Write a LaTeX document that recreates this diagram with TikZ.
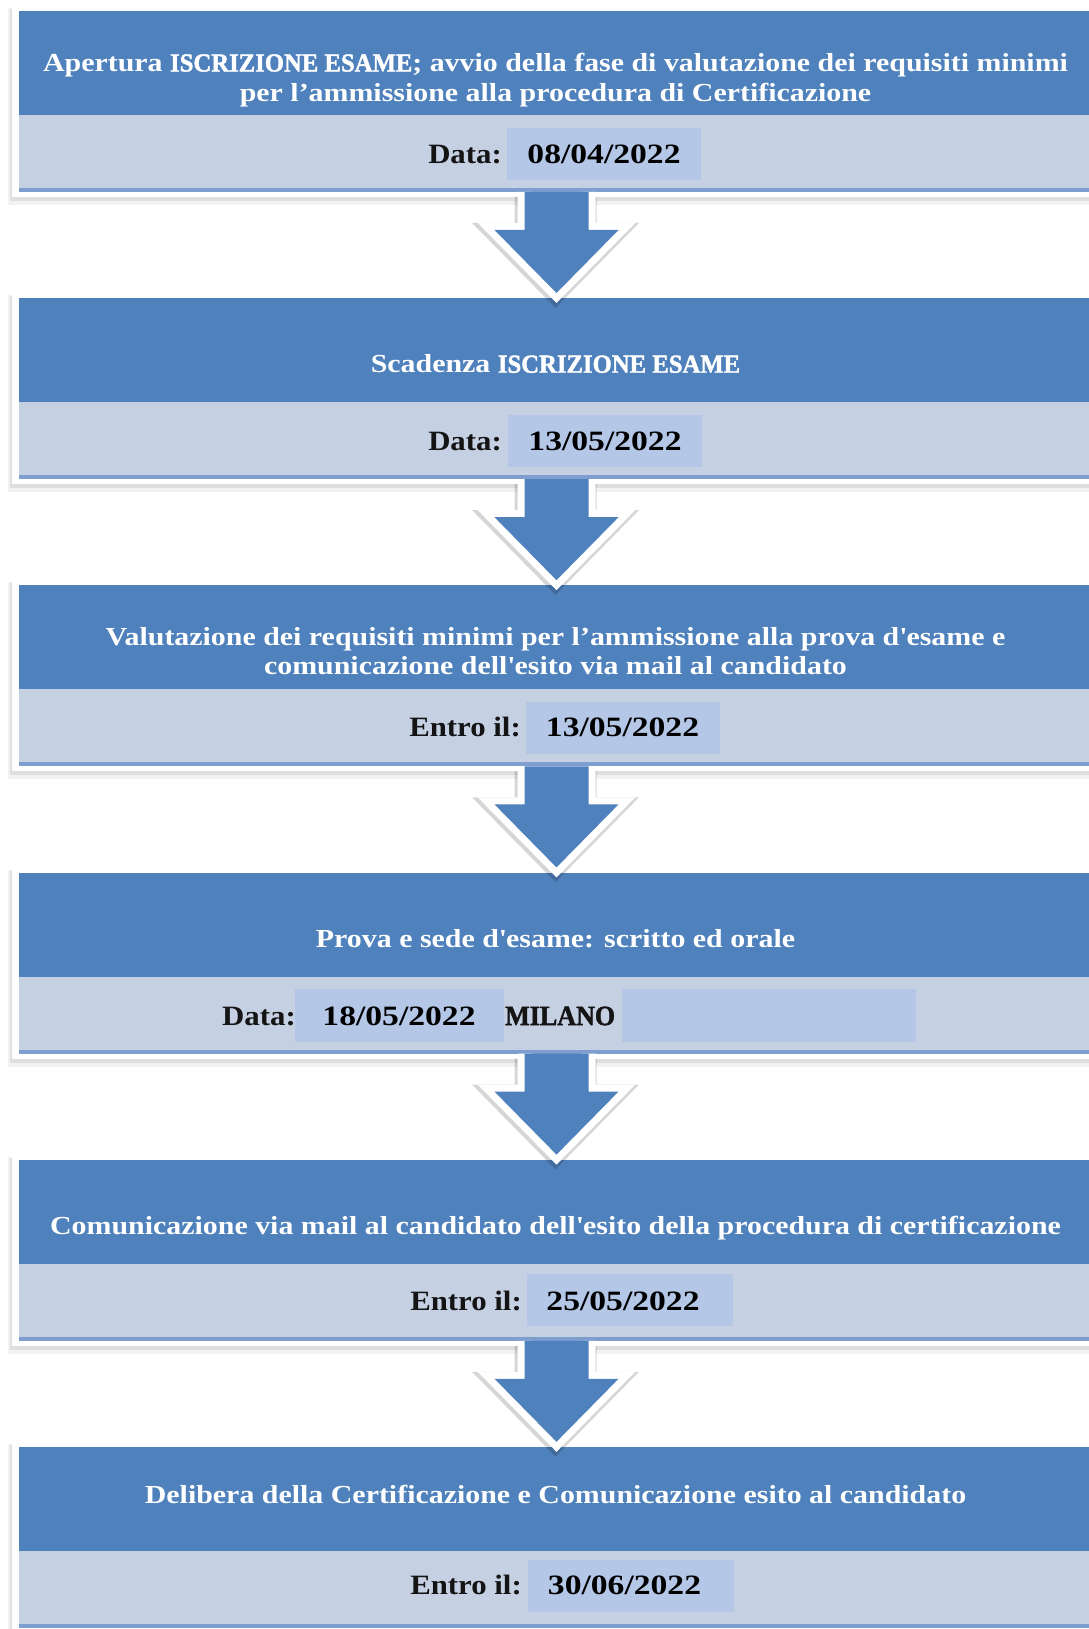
\documentclass[tikz,border=0pt]{standalone}
\usepackage{fontspec}
\setmainfont{Liberation Serif}
\newfontfamily\ttlfam[FakeStretch=1.15]{Liberation Serif}
\newfontfamily\capfam[FakeStretch=0.95,FakeBold=1.5]{Liberation Serif}
\newfontfamily\lblfam[FakeStretch=1.1]{Liberation Serif}
\newfontfamily\lcapfam[FakeStretch=0.93,FakeBold=1.5]{Liberation Serif}
\newfontfamily\datfam[FakeStretch=1.2]{Liberation Serif}
\definecolor{dkblue}{RGB}{79,129,189}
\definecolor{ltband}{RGB}{197,208,227}
\definecolor{dtbox}{RGB}{180,199,231}
\definecolor{lnblue}{RGB}{125,158,206}
\tikzset{
  ttl/.style={text=white, font=\ttlfam\bfseries\fontsize{26}{29.5}\selectfont, align=center, inner sep=0pt},
  lbl/.style={text=black!92, font=\lblfam\bfseries\fontsize{28}{30}\selectfont, inner sep=0pt},
  dat/.style={text=black, font=\datfam\bfseries\fontsize{28}{30}\selectfont, inner sep=0pt},
  datebox/.style={fill=dtbox, draw=none, inner sep=0pt, anchor=north west},
}
\newcommand\stagebox[1]{%
  \fill[black,opacity=0.05] (8,#1-3) rectangle (1100,#1+194);
  \fill[black,opacity=0.08] (10,#1-2) rectangle (1100,#1+190);
  \fill[white] (12,#1-4) rectangle (1100,#1+186);
  \fill[dkblue] (19,#1) rectangle (1100,#1+104);
  \fill[ltband] (19,#1+104) rectangle (1100,#1+177);
  \fill[lnblue] (19,#1+177) rectangle (1100,#1+181);
}
\newcommand\stagearrow[1]{%
  \draw[black,opacity=0.16,line width=18,line join=miter]
    (523.5,#1+186) -- (523.5,#1+221) -- (493.5,#1+221) -- (555.5,#1+284)
    -- (617.5,#1+221) -- (587.5,#1+221) -- (587.5,#1+186);
  \draw[white,line width=14,line join=miter]
    (524.5,#1+181) -- (524.5,#1+219) -- (494.5,#1+219) -- (556.5,#1+282)
    -- (618.5,#1+219) -- (588.5,#1+219) -- (588.5,#1+181);
  \fill[dkblue]
    (524.5,#1+181) -- (524.5,#1+219) -- (494.5,#1+219) -- (556.5,#1+282)
    -- (618.5,#1+219) -- (588.5,#1+219) -- (588.5,#1+181) -- cycle;
}
\begin{document}
\begin{tikzpicture}[x=1pt,y=-1pt]
\useasboundingbox (0,0) rectangle (1088,1629);
\fill[white] (0,0) rectangle (1088,1629);
\def\tA{11}
\def\tB{298.2}
\def\tC{585.4}
\def\tD{872.6}
\def\tE{1159.8}
\def\tF{1447}

% boxes
\stagebox{\tA}
\stagebox{\tB}
\stagebox{\tC}
\stagebox{\tD}
\stagebox{\tE}
\stagebox{\tF}

% arrows
\stagearrow{\tA}
\stagearrow{\tB}
\stagearrow{\tC}
\stagearrow{\tD}
\stagearrow{\tE}

% titles
\node[ttl, anchor=north] (t1) at (555.5,\tA+42) {Apertura {\capfam\bfseries ISCRIZIONE ESAME}; avvio della fase di valutazione dei requisiti minimi\\per l’ammissione alla procedura di Certificazione};
\node[ttl, anchor=base] (t2) at (555.5,\tB+74.5) {Scadenza {\capfam\bfseries ISCRIZIONE ESAME}};
\node[ttl, anchor=north] (t3) at (555.5,\tC+41.5) {Valutazione dei requisiti minimi per l’ammissione alla prova d\textquotesingle esame e\\comunicazione dell\textquotesingle esito via mail al candidato};
\node[ttl, anchor=base] (t4) at (555.5,\tD+75) {Prova e sede d\textquotesingle esame: scritto ed orale};
\node[ttl, anchor=base] (t5) at (555.5,\tE+75) {Comunicazione via mail al candidato dell\textquotesingle esito della procedura di certificazione};
\node[ttl, anchor=base] (t6) at (555.5,\tF+56) {Delibera della Certificazione e Comunicazione esito al candidato};

% date boxes
\node[datebox, minimum width=194, minimum height=52] (b1) at (507,\tA+117) {};
\node[datebox, minimum width=194, minimum height=52] (b2) at (508,\tB+117) {};
\node[datebox, minimum width=194, minimum height=52] (b3) at (526,\tC+116) {};
\node[datebox, minimum width=209, minimum height=53] (b4) at (295,\tD+116.5) {};
\node[datebox, minimum width=294, minimum height=53] (b4b) at (622,\tD+116.5) {};
\node[datebox, minimum width=206, minimum height=52] (b5) at (527,\tE+114) {};
\node[datebox, minimum width=206, minimum height=52] (b6) at (528,\tF+112.5) {};

% labels
\node[lbl, anchor=base east] (l1) at (502,\tA+153) {Data:};
\node[lbl, anchor=base east] (l2) at (502,\tB+152.5) {Data:};
\node[lbl, anchor=base east] (l3) at (521,\tC+151.5) {Entro il:};
\node[lbl, anchor=base east] (l4) at (296,\tD+152.5) {Data:};
\node[lbl, anchor=base west, font=\lcapfam\bfseries\fontsize{28}{30}\selectfont] (m4) at (505,\tD+152.5) {MILANO};
\node[lbl, anchor=base east] (l5) at (522,\tE+150.5) {Entro il:};
\node[lbl, anchor=base east] (l6) at (522,\tF+147.5) {Entro il:};

% dates
\node[dat, anchor=base] (d1) at (604,\tA+153) {08/04/2022};
\node[dat, anchor=base] (d2) at (605,\tB+152.5) {13/05/2022};
\node[dat, anchor=base] (d3) at (622.5,\tC+151.5) {13/05/2022};
\node[dat, anchor=base] (d4) at (399,\tD+152.5) {18/05/2022};
\node[dat, anchor=base] (d5) at (623,\tE+150.5) {25/05/2022};
\node[dat, anchor=base] (d6) at (624.5,\tF+147.5) {30/06/2022};
\end{tikzpicture}
\end{document}
